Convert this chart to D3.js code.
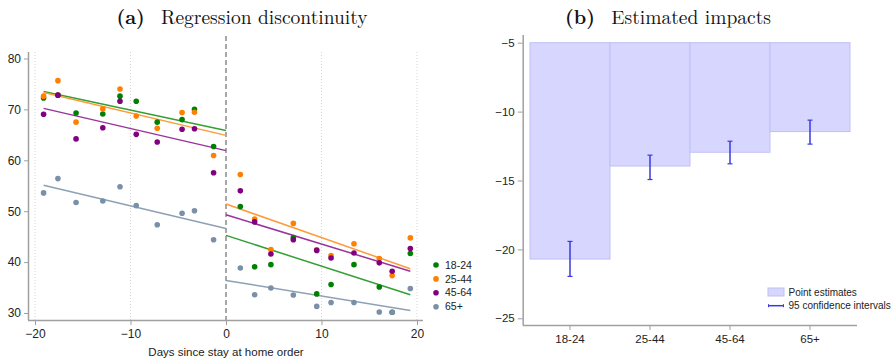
<!DOCTYPE html>
<html>
<head>
<meta charset="utf-8">
<script src="https://cdn.jsdelivr.net/npm/d3@7"></script>
<style>
  body { margin: 0; background: #fff; }
  svg { display: block; }
  .tick text { font-family: "Liberation Sans", Arial, sans-serif; fill: #222; }
</style>
</head>
<body>
<div id="chart"></div>
<script>
// binned days (x) for the scatter, left of and right of the order
var days = [-19.1, -17.6, -15.7, -12.9, -11.1, -9.4, -7.2, -4.6, -3.3, -1.3,
            1.5, 3.0, 4.7, 7.05, 9.5, 11.0, 13.4, 16.05, 17.4, 19.3];

// binned means per age group
var g1824 = [72.25, 72.8, 69.3, 69.1, 72.6, 71.6, 67.5, 68.0, 70.0, 62.7,
             50.9, 39.1, 39.5, 44.8, 33.75, 35.6, 39.5, 35.1, 30.15, 41.7];
var g2544 = [72.6, 75.65, 67.5, 70.1, 74.0, 68.7, 66.3, 69.4, 69.45, 60.95,
             57.2, 48.45, 42.45, 47.6, 42.4, 41.3, 43.6, 40.7, 37.35, 44.75];
var g4564 = [69.05, 72.8, 64.2, 66.4, 71.6, 65.1, 63.6, 66.1, 66.2, 57.55,
             54.0, 47.9, 41.6, 44.4, 42.3, 40.8, 41.8, 39.85, 38.2, 42.65];
var g65 = [53.6, 56.4, 51.7, 52.0, 54.8, 51.1, 47.35, 49.6, 50.1, 44.4,
           38.85, 33.6, 34.9, 33.55, 31.3, 32.05, 32.05, 30.2, 30.15, 34.8];

// fitted lines: value at start/end before and after the cutoff
var fitX = [-19.1, 0, 0, 19.3];
var fit1824 = [73.5, 65.85, 45.25, 33.6];
var fit2544 = [73.3, 64.9, 51.4, 38.7];
var fit4564 = [70.2, 61.9, 49.3, 38.2];
var fit65 = [55.1, 46.6, 36.4, 30.5];

var groups = ["18-24", "25-44", "45-64", "65+"];
var xTicksA = [-20, -10, 0, 10, 20];
var yTicksA = [30, 40, 50, 60, 70, 80];

// panel b: estimates and 95% CI
var estimates = [-20.7, -13.95, -12.95, -11.45];
var ciLow = [-21.96, -14.93, -13.79, -12.36];
var ciHigh = [-19.42, -13.16, -12.15, -10.62];
var yTicksB = [-25, -20, -15, -10, -5];

var colors = ["#008000", "#ff7f00", "#800080", "#7a8fa8"];
var lineColors = ["#33a033", "#ff9a3a", "#9a339a", "#8ea0b6"];
var series = [g1824, g2544, g4564, g65];
var fits = [fit1824, fit2544, fit4564, fit65];

var svg = d3.select("#chart").append("svg")
  .attr("width", 896).attr("height", 360);

var sans = "'Liberation Sans', Arial, sans-serif";
var serif = "'Latin Modern Roman', 'Liberation Serif', 'DejaVu Serif', serif";

// ---------------- panel a ----------------
var x = d3.scaleLinear().domain([-20, 20]).range([35, 417]);
var y = d3.scaleLinear().domain([30, 80]).range([313, 58.5]);

// dotted gridlines
svg.append("g").selectAll("line")
  .data(xTicksA.filter(d => d !== 0))
  .enter().append("line")
  .attr("x1", d => x(d)).attr("x2", d => x(d))
  .attr("y1", 52).attr("y2", 320)
  .attr("stroke", "#d4d4d4").attr("stroke-width", 1)
  .attr("stroke-dasharray", "1,2");

// cutoff line
svg.append("line")
  .attr("x1", x(0)).attr("x2", x(0))
  .attr("y1", 36).attr("y2", 320)
  .attr("stroke", "#a8a8a8").attr("stroke-width", 2)
  .attr("stroke-dasharray", "5,3");

var xAxisA = svg.append("g")
  .attr("transform", "translate(0,320)")
  .call(d3.axisBottom(x).tickValues(xTicksA).tickSize(5).tickPadding(4));
xAxisA.select(".domain").attr("d", "M28,0.5H423").attr("stroke", "#a0a0a0").attr("stroke-width", 1.5);
xAxisA.selectAll(".tick line").attr("stroke", "#a0a0a0");
xAxisA.selectAll(".tick text").attr("font-size", 12);

var yAxisA = svg.append("g")
  .attr("transform", "translate(28,0)")
  .call(d3.axisLeft(y).tickValues(yTicksA).tickSize(4).tickPadding(3));
yAxisA.select(".domain").attr("d", "M0.5,52V320").attr("stroke", "#a0a0a0").attr("stroke-width", 1.5);
yAxisA.selectAll(".tick line").attr("stroke", "#a0a0a0");
yAxisA.selectAll(".tick text").attr("font-size", 12);

// fitted lines
fits.forEach(function(f, i) {
  [[0, 1], [2, 3]].forEach(function(seg) {
    svg.append("line")
      .attr("x1", x(fitX[seg[0]])).attr("y1", y(f[seg[0]]))
      .attr("x2", x(fitX[seg[1]])).attr("y2", y(f[seg[1]]))
      .attr("stroke", lineColors[i]).attr("stroke-width", 1.5);
  });
});

// scatter points
series.forEach(function(s, i) {
  svg.append("g").selectAll("circle")
    .data(s)
    .enter().append("circle")
    .attr("cx", (d, j) => x(days[j]))
    .attr("cy", d => y(d))
    .attr("r", 2.8)
    .attr("fill", colors[i]);
});

// legend a
var legA = svg.append("g").attr("transform", "translate(436,265)");
groups.forEach(function(g, i) {
  legA.append("circle").attr("cx", 0).attr("cy", i * 13.9).attr("r", 2.8).attr("fill", colors[i]);
  legA.append("text").attr("x", 9).attr("y", i * 13.9).attr("dy", "0.35em")
    .attr("font-family", sans).attr("font-size", 10.5).attr("fill", "#222").text(g);
});

svg.append("text")
  .attr("x", 226).attr("y", 352).attr("dy", "0.35em")
  .attr("text-anchor", "middle")
  .attr("font-family", sans).attr("font-size", 11.5).attr("fill", "#222")
  .text("Days since stay at home order");

var titleA = svg.append("text")
  .attr("x", 242).attr("y", 24)
  .attr("text-anchor", "middle")
  .attr("font-family", serif).attr("font-size", 19.5).attr("fill", "#111");
titleA.append("tspan").attr("font-weight", "bold").text("(a)");
titleA.append("tspan").text("\u00a0 Regression discontinuity");

// ---------------- panel b ----------------
var xb = d3.scaleBand().domain(groups).range([530, 850]).padding(0);
var yb = d3.scaleLinear().domain([-25, -5]).range([318.3, 42.7]);

svg.append("g").selectAll("rect")
  .data(estimates)
  .enter().append("rect")
  .attr("x", (d, i) => xb(groups[i]))
  .attr("width", xb.bandwidth())
  .attr("y", yb(-5))
  .attr("height", d => yb(d) - yb(-5))
  .attr("fill", "#d6d6ff")
  .attr("stroke", "#c0c0f4").attr("stroke-width", 1);

// CI bars
var ciG = svg.append("g");
groups.forEach(function(g, i) {
  var cx = xb(g) + xb.bandwidth() / 2;
  ciG.append("line").attr("x1", cx).attr("x2", cx)
    .attr("y1", yb(ciHigh[i])).attr("y2", yb(ciLow[i]))
    .attr("stroke", "#3a3ae0").attr("stroke-width", 1.5);
  [ciHigh[i], ciLow[i]].forEach(function(v) {
    ciG.append("line").attr("x1", cx - 2.5).attr("x2", cx + 2.5)
      .attr("y1", yb(v)).attr("y2", yb(v))
      .attr("stroke", "#3a3ae0").attr("stroke-width", 1.2);
  });
});

var xAxisB = svg.append("g")
  .attr("transform", "translate(0,325)")
  .call(d3.axisBottom(xb).tickSize(5).tickPadding(5));
xAxisB.select(".domain").attr("d", "M522.7,0.5H857").attr("stroke", "#a0a0a0").attr("stroke-width", 1.5);
xAxisB.selectAll(".tick line").attr("stroke", "#a0a0a0");
xAxisB.selectAll(".tick text").attr("font-size", 11.5);

var yAxisB = svg.append("g")
  .attr("transform", "translate(522.7,0)")
  .call(d3.axisLeft(yb).tickValues(yTicksB).tickSize(5).tickPadding(3));
yAxisB.select(".domain").attr("d", "M0.5,35V325").attr("stroke", "#a0a0a0").attr("stroke-width", 1.5);
yAxisB.selectAll(".tick line").attr("stroke", "#a0a0a0");
yAxisB.selectAll(".tick text").attr("font-size", 11.5);

// legend b
var legB = svg.append("g").attr("transform", "translate(768,288)");
legB.append("rect").attr("x", 0).attr("y", 0).attr("width", 16).attr("height", 8)
  .attr("fill", "#d6d6ff").attr("stroke", "#c0c0f4");
legB.append("text").attr("x", 20.5).attr("y", 4.2).attr("dy", "0.35em")
  .attr("font-family", sans).attr("font-size", 10).attr("fill", "#222").text("Point estimates");
legB.append("line").attr("x1", 0).attr("x2", 16).attr("y1", 17.7).attr("y2", 17.7)
  .attr("stroke", "#3a3ae0").attr("stroke-width", 1.5);
legB.append("line").attr("x1", 0.5).attr("x2", 0.5).attr("y1", 16.2).attr("y2", 19.2)
  .attr("stroke", "#3a3ae0");
legB.append("line").attr("x1", 15.5).attr("x2", 15.5).attr("y1", 16.2).attr("y2", 19.2)
  .attr("stroke", "#3a3ae0");
legB.append("text").attr("x", 20.5).attr("y", 17.7).attr("dy", "0.35em")
  .attr("font-family", sans).attr("font-size", 10).attr("fill", "#222").text("95 confidence intervals");

var titleB = svg.append("text")
  .attr("x", 668).attr("y", 24)
  .attr("text-anchor", "middle")
  .attr("font-family", serif).attr("font-size", 19.5).attr("fill", "#111");
titleB.append("tspan").attr("font-weight", "bold").text("(b)");
titleB.append("tspan").text("\u00a0 Estimated impacts");
</script>
</body>
</html>
